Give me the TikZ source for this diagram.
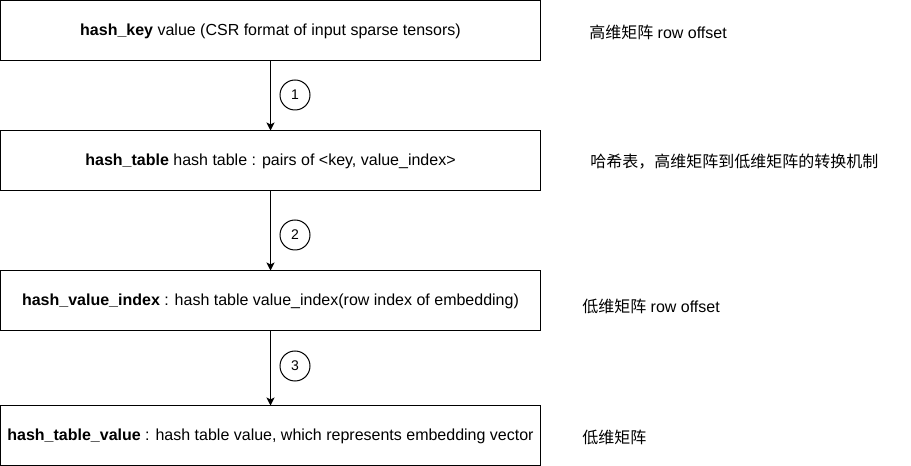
\documentclass[tikz,border=0pt]{standalone}
\usepackage{fontspec}
\setmainfont{Liberation Sans}
\newfontfamily\cjk{Noto Sans CJK SC}
\usetikzlibrary{arrows.meta}

\begin{document}
\begin{tikzpicture}[x=0.75pt,y=0.75pt,yscale=-1,xscale=1,
    stepbox/.style={draw,line width=0.75pt,minimum width=405pt,minimum height=45pt,inner sep=0pt,font=\fontsize{12}{14}\selectfont},
    num/.style={draw,circle,line width=0.75pt,minimum size=22.5pt,inner sep=0pt,font=\fontsize{10.5}{12}\selectfont},
    note/.style={anchor=west,inner sep=0pt,font=\fontsize{12}{14}\selectfont},
    flow/.style={line width=0.75pt,-{Stealth[length=6pt,width=6pt,inset=1.5pt]}}]
    \path[use as bounding box] (0,0) rectangle (911,466);

    % Boxes
    \node [stepbox] (hkey) at (270.5,31) {\textbf{hash\_key} value (CSR format of input sparse tensors)};
    \node [stepbox] (htable) at (270.5,161) {\textbf{hash\_table} hash table : pairs of <key, value\_index>};
    \node [stepbox] (hindex) at (270.5,301) {\textbf{hash\_value\_index} : hash table value\_index(row index of embedding)};
    \node [stepbox] (hvalue) at (270.5,436) {\textbf{hash\_table\_value} : hash table value, which represents embedding vector};

    % Arrows
    \draw [flow] (hkey) -- (htable);
    \draw [flow] (htable) -- (hindex);
    \draw [flow] (hindex) -- (hvalue);

    % Step numbers
    \node [num] (n1) at (295,95) {1};
    \node [num] (n2) at (295,235) {2};
    \node [num] (n3) at (295,366) {3};

    % Notes
    \node [note] (t1) at (589,32) {{\cjk 高维矩阵} row offset};
    \node [note] (t2) at (590,162) {\cjk 哈希表，高维矩阵到低维矩阵的转换机制};
    \node [note] (t3) at (582,306) {{\cjk 低维矩阵} row offset};
    \node [note] (t4) at (582,437) {\cjk 低维矩阵};

\end{tikzpicture}
\end{document}
